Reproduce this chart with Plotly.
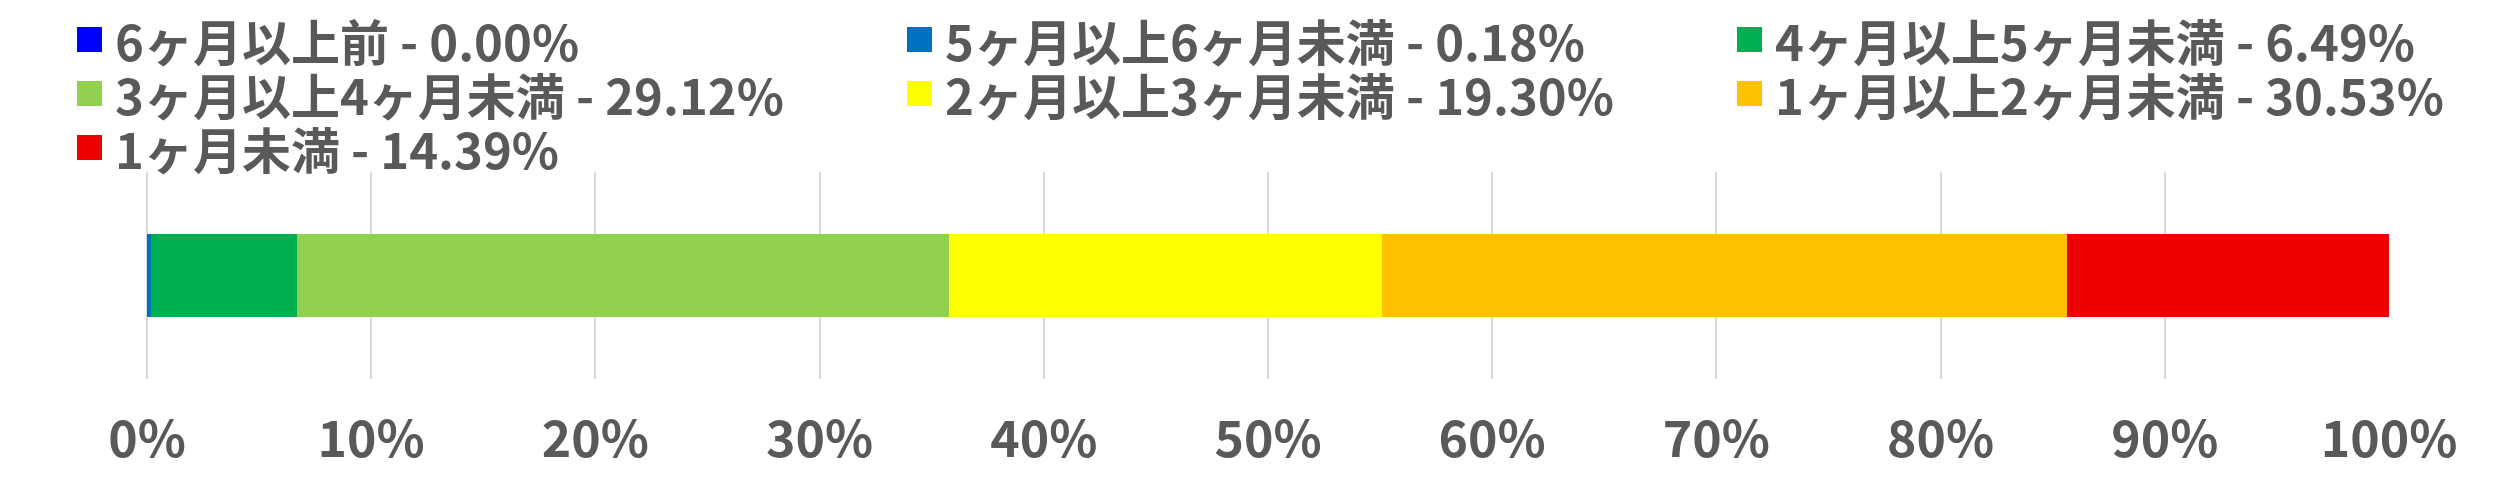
import plotly.graph_objects as go

# period buckets (oldest first) and their share of items, in percent
labels = [
    "6ヶ月以上前",
    "5ヶ月以上6ヶ月未満",
    "4ヶ月以上5ヶ月未満",
    "3ヶ月以上4ヶ月未満",
    "2ヶ月以上3ヶ月未満",
    "1ヶ月以上2ヶ月未満",
    "1ヶ月未満",
]
shares = [0.00, 0.18, 6.49, 29.12, 19.30, 30.53, 14.39]
colors = ["#0000FF", "#0070C0", "#00B050", "#92D050", "#FFFF00", "#FFC000", "#EE0000"]

category = [""]
text_color = "#595959"
font_family = "Noto Sans CJK JP"

W, H = 2519, 480
OFF = 8  # the page body adds an 8px margin, so lay things out 8px up/left
M = dict(l=147 - OFF, r=W - (2389 - OFF), t=172 - OFF, b=H - (379 - OFF))
plot_w = W - M["l"] - M["r"]
plot_h = H - M["t"] - M["b"]


def px_to_paper(px, py):
    # pixel position on the page -> paper coordinates
    return (px - OFF - M["l"]) / plot_w, (H - (py - OFF) - M["b"]) / plot_h


fig = go.Figure()
for name, val, col in zip(labels, shares, colors):
    fig.add_trace(go.Bar(
        y=category,
        x=[val],
        orientation="h",
        name=f"{name} - {val:.2f}%",
        marker=dict(color=col, line=dict(width=0)),
        hoverinfo="name",
        showlegend=False,
    ))

# Excel-style legend: 3 columns, filled row by row, big square swatches
for i, tr in enumerate(fig.data):
    col, row = i % 3, i // 3
    sx = 77 + 830 * col
    cy = 39.5 + 54 * row
    x0, y0 = px_to_paper(sx, cy + 12.5)
    x1, y1 = px_to_paper(sx + 25, cy - 12.5)
    fig.add_shape(type="rect", xref="paper", yref="paper",
                  x0=x0, x1=x1, y0=y0, y1=y1,
                  fillcolor=tr.marker.color, line=dict(width=0))
    tx, ty = px_to_paper(sx + 36, cy)
    fig.add_annotation(xref="paper", yref="paper", x=tx, y=ty,
                       xanchor="left", yanchor="middle", showarrow=False,
                       text=tr.name,
                       font=dict(family=font_family, size=49, color=text_color, weight="bold"))

fig.update_layout(
    width=W,
    height=H,
    barmode="stack",
    bargap=0.6,
    plot_bgcolor="white",
    paper_bgcolor="white",
    showlegend=False,
    margin=dict(M, autoexpand=False),
    xaxis=dict(
        range=[0, 100],
        dtick=10,
        ticksuffix="%",
        showgrid=True,
        gridcolor="#D9D9D9",
        gridwidth=2,
        zeroline=True,
        zerolinecolor="#D9D9D9",
        zerolinewidth=2,
        showline=False,
        ticks="",
        ticklabelstandoff=27,
        tickangle=0,
        tickfont=dict(family=font_family, size=50, color=text_color, weight="bold"),
        fixedrange=True,
    ),
    yaxis=dict(
        range=[-0.5, 0.5],
        showgrid=False,
        zeroline=False,
        showticklabels=False,
        fixedrange=True,
    ),
)

fig.write_html("out.html")
